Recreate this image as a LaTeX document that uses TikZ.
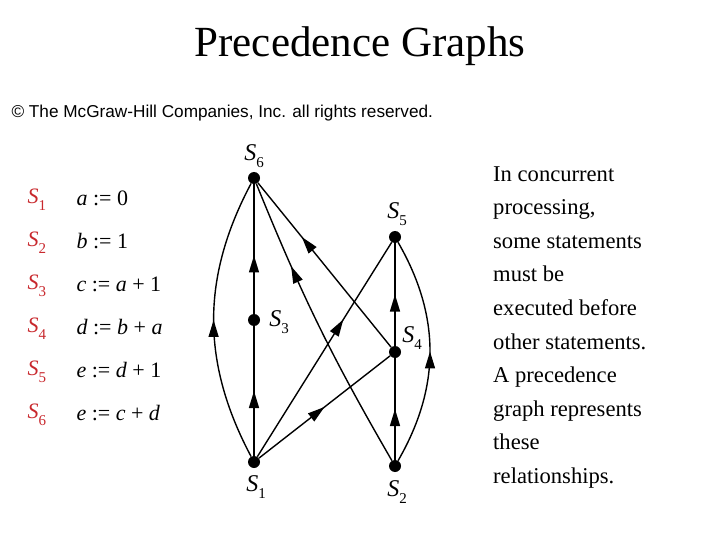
\documentclass[tikz,border=0pt]{standalone}
\usepackage{fontspec}
\setmainfont{Liberation Serif}
\newfontfamily\arialf{Liberation Sans}
\usetikzlibrary{decorations.markings,arrows.meta}
\definecolor{sred}{RGB}{200,40,45}
\newcommand{\Sv}[1]{\textit{S}\raisebox{-0.3em}{\fontsize{15}{16}\selectfont #1}}
\begin{document}
\begin{tikzpicture}[x=1pt,y=-1pt,
  vtx/.style={circle,fill=black,inner sep=0pt,minimum size=12pt},
  lbl/.style={font=\fontsize{24}{26}\selectfont},
  edge/.style={line width=1.4pt,postaction={decorate},decoration={markings,mark=at position #1 with {\arrow{Triangle[length=17pt,width=10pt]}}}},
  edge/.default=0.5]
\useasboundingbox (0,0) rectangle (720,540);
\node[font=\fontsize{43}{46}\selectfont] (title) at (360,46) {Precedence Graphs};
\node[font=\arialf\fontsize{17.2}{19}\selectfont,anchor=west] (copy) at (8,113) {\textcopyright{} The McGraw-Hill Companies, Inc. all rights reserved.};
\node[vtx] (s6) at (254,178) {};
\node[vtx] (s5) at (395,237) {};
\node[vtx] (s3) at (254,320) {};
\node[vtx] (s4) at (395,352) {};
\node[vtx] (s1) at (254,462) {};
\node[vtx] (s2) at (395,466) {};
\node[lbl] (l6) at (254,156) {\Sv{6}};
\node[lbl] (l5) at (397,214) {\Sv{5}};
\node[lbl] (l3) at (279,322) {\Sv{3}};
\node[lbl] (l4) at (412,338) {\Sv{4}};
\node[lbl] (l1) at (256,487) {\Sv{1}};
\node[lbl] (l2) at (397,492) {\Sv{2}};
\draw[edge] (s1) -- (s3);
\draw[edge=0.45] (s3) -- (s6);
\draw[edge] (s1) to[bend left=28] (s6);
\draw[edge=0.64] (s1) -- (s5);
\draw[edge] (s1) -- (s4);
\draw[edge=0.67] (s4) -- (s6);
\draw[edge=0.71] (s2) to[bend left=4] (s6);
\draw[edge] (s2) -- (s4);
\draw[edge] (s4) -- (s5);
\draw[edge] (s2) to[bend right=30] (s5);
\foreach \i/\s [count=\k] in {1/{\textit{a} := 0},2/{\textit{b} := 1},3/{\textit{c} := \textit{a} + 1},4/{\textit{d} := \textit{b} + \textit{a}},5/{\textit{e} := \textit{d} + 1},6/{\textit{e} := \textit{c} + \textit{d}}}{
  \node[font=\fontsize{22}{24}\selectfont,text=sred,anchor=west] (n\i) at (24,{157+43*\k}) {\Sv{\i}};
  \node[font=\fontsize{22}{24}\selectfont,anchor=west] (t\i) at (73,{155+43*\k}) {\s};
}
\node[anchor=north west,align=left,font=\fontsize{22.6}{33.6}\selectfont,inner sep=0pt] (txt) at (493,166) {In concurrent\\processing,\\some statements\\must be\\executed before\\other statements.\\A precedence\\graph represents\\these\\relationships.};
\end{tikzpicture}
\end{document}
